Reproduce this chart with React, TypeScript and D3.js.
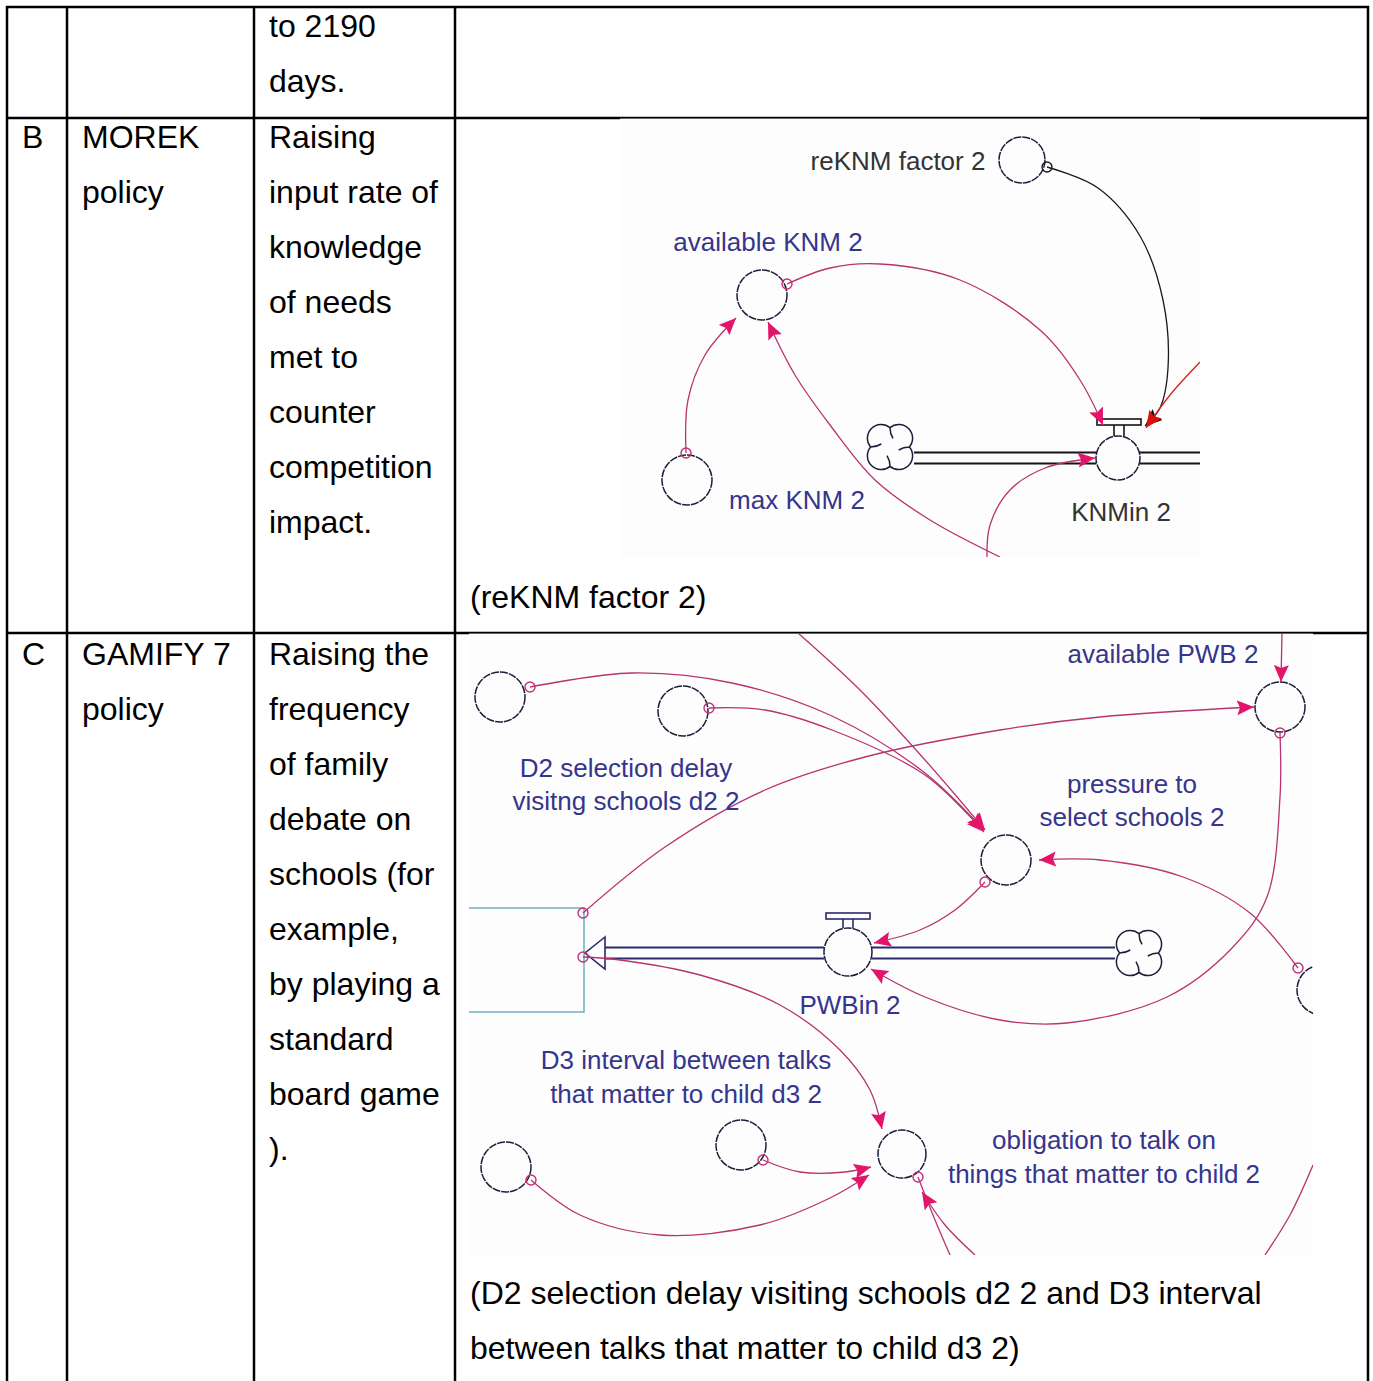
import { useEffect, useRef } from 'react';
import * as d3 from 'd3';

const W = 1373;
const H = 1381;
const FONT = "'Liberation Sans', Arial, sans-serif";

// ---- table text ----
const rowLetters = ['', 'B', 'C'];
const policyText = [[], ['MOREK', 'policy'], ['GAMIFY 7', 'policy']];
const descText = [
  ['to 2190', 'days.'],
  ['Raising', 'input rate of', 'knowledge', 'of needs', 'met to', 'counter', 'competition', 'impact.'],
  ['Raising the', 'frequency', 'of family', 'debate on', 'schools (for', 'example,', 'by playing a', 'standard', 'board game', ').'],
];
const captionText = [
  [],
  ['(reKNM factor 2)'],
  ['(D2 selection delay visiting schools d2 2 and D3 interval', 'between talks that matter to child d3 2)'],
];

// ---- diagram B (image-local coordinates) ----
const knmNodes = [
  { id: 'reKNM', x: 402, y: 42, r: 23 },
  { id: 'available', x: 142, y: 177, r: 25 },
  { id: 'max', x: 67, y: 362, r: 25 },
  { id: 'KNMin', x: 498, y: 340, r: 22 },
];
const knmLabels = [
  { text: 'reKNM factor 2', x: 278, y: 52, dark: true },
  { text: 'available KNM 2', x: 148, y: 133, dark: false },
  { text: 'max KNM 2', x: 177, y: 391, dark: false },
  { text: 'KNMin 2', x: 501, y: 403, dark: true },
];
const knmLinks = [
  { kind: 'black', origin: true, pts: [[427, 49], [478, 70], [520, 118], [543, 182], [548, 250], [540, 290], [525, 308]] },
  { kind: 'red', origin: false, pts: [[580, 244], [550, 277], [526, 310]] },
  { kind: 'pink', origin: true, pts: [[167, 166], [210, 150], [260, 146], [340, 162], [420, 212], [460, 262], [483, 307]] },
  { kind: 'pink', origin: true, pts: [[66, 335], [68, 282], [85, 237], [116, 200]] },
  { kind: 'pink', origin: false, pts: [[380, 439], [310, 402], [255, 362], [210, 307], [175, 257], [148, 204]] },
  { kind: 'pink', origin: false, pts: [[367, 439], [370, 407], [390, 372], [425, 350], [475, 340]] },
];
const knmClouds = [{ x: 270, y: 329, r: 25 }];
const knmPipes = [{ x0: 294, x1: 476, y: 340 }, { x0: 520, x1: 580, y: 340 }];
const knmValves = [{ x: 499, top: 301, base: 318 }];

// ---- diagram C (image-local coordinates) ----
const pwbNodes = [
  { id: 'auxA', x: 31, y: 64, r: 25 },
  { id: 'auxB', x: 214, y: 78, r: 25 },
  { id: 'pressure', x: 537, y: 227, r: 25 },
  { id: 'availablePWB', x: 811, y: 74, r: 25 },
  { id: 'rightAux', x: 853, y: 357, r: 25 },
  { id: 'PWBin', x: 379, y: 319, r: 24 },
  { id: 'obligation', x: 433, y: 521, r: 24 },
  { id: 'auxC', x: 37, y: 534, r: 25 },
  { id: 'auxD', x: 272, y: 512, r: 25 },
];
const pwbLabels = [
  { text: 'available PWB 2', x: 694, y: 30 },
  { text: 'pressure to', x: 663, y: 160 },
  { text: 'select schools 2', x: 663, y: 193 },
  { text: 'D2 selection delay', x: 157, y: 144 },
  { text: 'visitng schools d2 2', x: 157, y: 177 },
  { text: 'PWBin 2', x: 381, y: 381 },
  { text: 'D3 interval between talks', x: 217, y: 436 },
  { text: 'that matter to child d3 2', x: 217, y: 470 },
  { text: 'obligation to talk on', x: 635, y: 516 },
  { text: 'things that matter to child 2', x: 635, y: 550 },
];
const pwbLinks = [
  { kind: 'pink', origin: true, arrow: true, pts: [[61, 54], [163, 40], [263, 50], [363, 83], [456, 140], [515, 197]] },
  { kind: 'pink', origin: true, arrow: true, pts: [[240, 75], [296, 77], [363, 97], [456, 142], [515, 199]] },
  { kind: 'pink', origin: false, arrow: true, pts: [[329, 0], [391, 57], [456, 127], [516, 197]] },
  { kind: 'pink', origin: true, arrow: true, pts: [[516, 249], [486, 277], [451, 297], [405, 310]] },
  { kind: 'pink', origin: true, arrow: true, pts: [[114, 280], [196, 214], [296, 157], [396, 124], [531, 97], [631, 84], [785, 74]] },
  { kind: 'pink', origin: true, arrow: true, pts: [[811, 100], [811, 164], [798, 264], [764, 314], [698, 364], [598, 390], [531, 387], [456, 364], [402, 336]] },
  { kind: 'pink', origin: true, arrow: true, pts: [[829, 335], [781, 280], [714, 244], [631, 227], [570, 227]] },
  { kind: 'pink', origin: false, arrow: true, pts: [[813, 0], [812, 49]] },
  { kind: 'pink', origin: true, arrow: true, pts: [[114, 324], [151, 327], [231, 342], [311, 372], [371, 417], [401, 457], [413, 496]] },
  { kind: 'pink', origin: true, arrow: true, pts: [[294, 527], [331, 539], [376, 539], [402, 534]] },
  { kind: 'pink', origin: true, arrow: true, pts: [[62, 547], [111, 582], [191, 602], [291, 592], [361, 565], [400, 542]] },
  { kind: 'pink', origin: true, arrow: false, pts: [[449, 544], [466, 587], [481, 622]] },
  { kind: 'pink', origin: false, arrow: true, pts: [[506, 622], [476, 592], [453, 559]] },
  { kind: 'pink', origin: false, arrow: false, pts: [[844, 532], [821, 582], [796, 622]] },
];
const pwbClouds = [{ x: 670, y: 320, r: 25 }];
const pwbPipes = [{ x0: 403, x1: 646, y: 320 }, { x0: 136, x1: 355, y: 320 }];
const pwbValves = [{ x: 379, top: 280, base: 295 }];
const pwbStock = { x0: -40, x1: 115, y0: 275, y1: 379 };

const INK = '#1d1d3a';
const PIPE = '#2a2a6a';
const PINK = '#b8336f';
const PINK_HEAD = '#e3156a';
const BLUE_TEXT = '#35358c';
const DARK_TEXT = '#333333';

function cloudPath(cx: number, cy: number, R: number) {
  const p = d3.path();
  const d = 0.5 * R;
  const rho = 0.55 * R;
  const t = d * Math.cos(Math.PI / 4) + Math.sqrt(rho * rho - (d * Math.sin(Math.PI / 4)) ** 2);
  [45, 135, 225, 315].forEach((deg, k) => {
    const th = (deg * Math.PI) / 180;
    const lx = cx + d * Math.cos(th);
    const ly = cy + d * Math.sin(th);
    const p0 = [cx + t * Math.cos(th - Math.PI / 4), cy + t * Math.sin(th - Math.PI / 4)];
    const p1 = [cx + t * Math.cos(th + Math.PI / 4), cy + t * Math.sin(th + Math.PI / 4)];
    const a0 = Math.atan2(p0[1] - ly, p0[0] - lx);
    let a1 = Math.atan2(p1[1] - ly, p1[0] - lx);
    if (a1 < a0) a1 += Math.PI * 2;
    if (k === 0) p.moveTo(p0[0], p0[1]);
    p.arc(lx, ly, rho, a0, a1, false);
  });
  p.closePath();
  // little inward curls at the notches
  [0, 90, 180, 270].forEach((deg) => {
    const a = (deg * Math.PI) / 180;
    const sx = cx + t * Math.cos(a);
    const sy = cy + t * Math.sin(a);
    const ex = cx + t * 0.45 * Math.cos(a) + R * 0.12 * Math.cos(a + Math.PI / 2);
    const ey = cy + t * 0.45 * Math.sin(a) + R * 0.12 * Math.sin(a + Math.PI / 2);
    p.moveTo(sx, sy);
    p.quadraticCurveTo(cx + t * 0.7 * Math.cos(a), cy + t * 0.7 * Math.sin(a), ex, ey);
  });
  return p.toString();
}

type Diagram = {
  key: string;
  x: number; y: number; w: number; h: number;
  nodes: { id: string; x: number; y: number; r: number }[];
  labels: { text: string; x: number; y: number; dark?: boolean }[];
  links: { kind: string; origin: boolean; arrow?: boolean; pts: number[][] }[];
  clouds: { x: number; y: number; r: number }[];
  pipes: { x0: number; x1: number; y: number }[];
  valves: { x: number; top: number; base: number }[];
  stock?: { x0: number; x1: number; y0: number; y1: number };
  pipeColor: string;
  fontSize: number;
};

function drawDiagram(svg: d3.Selection<SVGSVGElement, unknown, null, undefined>, D: Diagram) {
  const sx = d3.scaleLinear().domain([0, D.w]).range([D.x, D.x + D.w]);
  const sy = d3.scaleLinear().domain([0, D.h]).range([D.y, D.y + D.h]);

  const defs = svg.append('defs');
  defs.append('clipPath').attr('id', `clip-${D.key}`)
    .append('rect').attr('x', sx(0)).attr('y', sy(0)).attr('width', D.w).attr('height', D.h);

  const heads: Record<string, string> = { pink: PINK_HEAD, black: '#111111', red: '#dd1010' };
  Object.entries(heads).forEach(([k, c]) => {
    defs.append('marker')
      .attr('id', `head-${D.key}-${k}`)
      .attr('markerUnits', 'userSpaceOnUse')
      .attr('markerWidth', 19).attr('markerHeight', 16)
      .attr('refX', 17).attr('refY', 7.5)
      .attr('orient', 'auto')
      .append('path').attr('d', 'M0,0 L17,7.5 L0,15 L3,7.5 Z').attr('fill', c);
  });

  svg.append('rect')
    .attr('x', sx(0)).attr('y', sy(0) + 0.6).attr('width', D.w).attr('height', D.h - 0.6)
    .attr('fill', '#fdfdfd');

  const g = svg.append('g').attr('clip-path', `url(#clip-${D.key})`);

  // stock
  if (D.stock) {
    const s = D.stock;
    g.append('rect')
      .attr('x', sx(s.x0)).attr('y', sy(s.y0))
      .attr('width', sx(s.x1) - sx(s.x0)).attr('height', sy(s.y1) - sy(s.y0))
      .attr('fill', 'none').attr('stroke', '#62aab9').attr('stroke-width', 1.4);
  }

  // pipes (double lines)
  D.pipes.forEach((p) => {
    [-5.5, 5.5].forEach((off) => {
      g.append('line')
        .attr('x1', sx(p.x0)).attr('x2', sx(p.x1))
        .attr('y1', sy(p.y) + off).attr('y2', sy(p.y) + off)
        .attr('stroke', D.pipeColor).attr('stroke-width', 1.8);
    });
  });

  // hollow flow arrow at the stock edge (diagram C)
  if (D.stock) {
    const s = D.stock;
    const tipX = sx(s.x1 + 1);
    const baseX = sx(D.pipes[1].x0);
    const cy = sy(D.pipes[1].y);
    g.append('path')
      .attr('d', `M${baseX},${cy - 16} L${tipX},${cy} L${baseX},${cy + 16} Z`)
      .attr('fill', '#fdfdfd').attr('stroke', D.pipeColor).attr('stroke-width', 1.6);
  }

  // valves
  D.valves.forEach((v) => {
    const x = sx(v.x);
    g.append('rect')
      .attr('x', x - 22).attr('y', sy(v.top)).attr('width', 44).attr('height', 6)
      .attr('fill', '#fdfdfd').attr('stroke', D.pipeColor).attr('stroke-width', 1.6);
    [-5, 5].forEach((o) => {
      g.append('line')
        .attr('x1', x + o).attr('x2', x + o)
        .attr('y1', sy(v.top) + 6).attr('y2', sy(v.base))
        .attr('stroke', D.pipeColor).attr('stroke-width', 1.6);
    });
  });

  // clouds
  D.clouds.forEach((c) => {
    g.append('path')
      .attr('d', cloudPath(sx(c.x), sy(c.y), c.r))
      .attr('fill', '#fdfdfd').attr('stroke', INK).attr('stroke-width', 1.5);
  });

  // nodes
  g.selectAll('circle.node')
    .data(D.nodes)
    .join('circle')
    .attr('class', 'node')
    .attr('cx', (d) => sx(d.x)).attr('cy', (d) => sy(d.y)).attr('r', (d) => d.r)
    .attr('fill', 'none').attr('stroke', INK).attr('stroke-width', 1.5)
    .attr('stroke-dasharray', '8 1');

  // links
  const line = d3.line<number[]>()
    .x((d) => sx(d[0])).y((d) => sy(d[1]))
    .curve(d3.curveCatmullRom.alpha(0.5));
  const strokeOf: Record<string, string> = { pink: PINK, black: '#1a1a1a', red: '#d42020' };
  D.links.forEach((l) => {
    const path = g.append('path')
      .attr('d', line(l.pts))
      .attr('fill', 'none')
      .attr('stroke', strokeOf[l.kind])
      .attr('stroke-width', 1.3);
    if (l.arrow !== false) path.attr('marker-end', `url(#head-${D.key}-${l.kind})`);
    if (l.origin) {
      g.append('circle')
        .attr('cx', sx(l.pts[0][0])).attr('cy', sy(l.pts[0][1])).attr('r', 5)
        .attr('fill', 'none')
        .attr('stroke', l.kind === 'black' ? '#1a1a1a' : '#c2307a')
        .attr('stroke-width', 1.4);
    }
  });

  // labels
  g.selectAll('text.label')
    .data(D.labels)
    .join('text')
    .attr('class', 'label')
    .attr('x', (d) => sx(d.x)).attr('y', (d) => sy(d.y))
    .attr('text-anchor', 'middle')
    .attr('font-family', FONT)
    .attr('font-size', D.fontSize)
    .attr('fill', (d) => (d.dark ? DARK_TEXT : BLUE_TEXT))
    .text((d) => d.text);
}

export default function App() {
  const ref = useRef<SVGSVGElement>(null);

  useEffect(() => {
    document.body.style.margin = '0';
    const el = ref.current;
    if (!el) return;
    const svg = d3.select(el);
    svg.selectAll('*').remove();

    svg.append('rect').attr('width', W).attr('height', H).attr('fill', '#ffffff');

    // table grid
    const cols = [7, 67, 254, 455, 1368];
    const rows = [7, 118, 633];
    const grid = svg.append('g').attr('stroke', '#000').attr('stroke-width', 2.5);
    rows.forEach((y) => grid.append('line').attr('x1', cols[0] - 1).attr('x2', cols[4] + 1).attr('y1', y).attr('y2', y));
    cols.forEach((x) => grid.append('line').attr('x1', x).attr('x2', x).attr('y1', rows[0] - 1).attr('y2', H));

    // table text
    const firstBaseline = [37, 148, 665];
    const captionBaseline = [0, 608, 1304];
    const lh = 55;
    const textG = svg.append('g').attr('font-family', FONT).attr('font-size', 32).attr('fill', '#000');
    rowLetters.forEach((t, i) => {
      if (t) textG.append('text').attr('x', 22).attr('y', firstBaseline[i]).text(t);
    });
    policyText.forEach((lines, i) =>
      lines.forEach((t, j) => textG.append('text').attr('x', 82).attr('y', firstBaseline[i] + j * lh).text(t)));
    descText.forEach((lines, i) =>
      lines.forEach((t, j) => textG.append('text').attr('x', 269).attr('y', firstBaseline[i] + j * lh).text(t)));
    captionText.forEach((lines, i) =>
      lines.forEach((t, j) => textG.append('text').attr('x', 470).attr('y', captionBaseline[i] + j * lh).text(t)));

    drawDiagram(svg as any, {
      key: 'knm', x: 620, y: 118, w: 580, h: 439,
      nodes: knmNodes, labels: knmLabels, links: knmLinks,
      clouds: knmClouds, pipes: knmPipes, valves: knmValves,
      pipeColor: '#151515', fontSize: 26,
    });
    drawDiagram(svg as any, {
      key: 'pwb', x: 469, y: 633, w: 844, h: 622,
      nodes: pwbNodes, labels: pwbLabels, links: pwbLinks,
      clouds: pwbClouds, pipes: pwbPipes, valves: pwbValves, stock: pwbStock,
      pipeColor: PIPE, fontSize: 26,
    });
  }, []);

  return <svg ref={ref} width={W} height={H} style={{ display: 'block' }} />;
}
